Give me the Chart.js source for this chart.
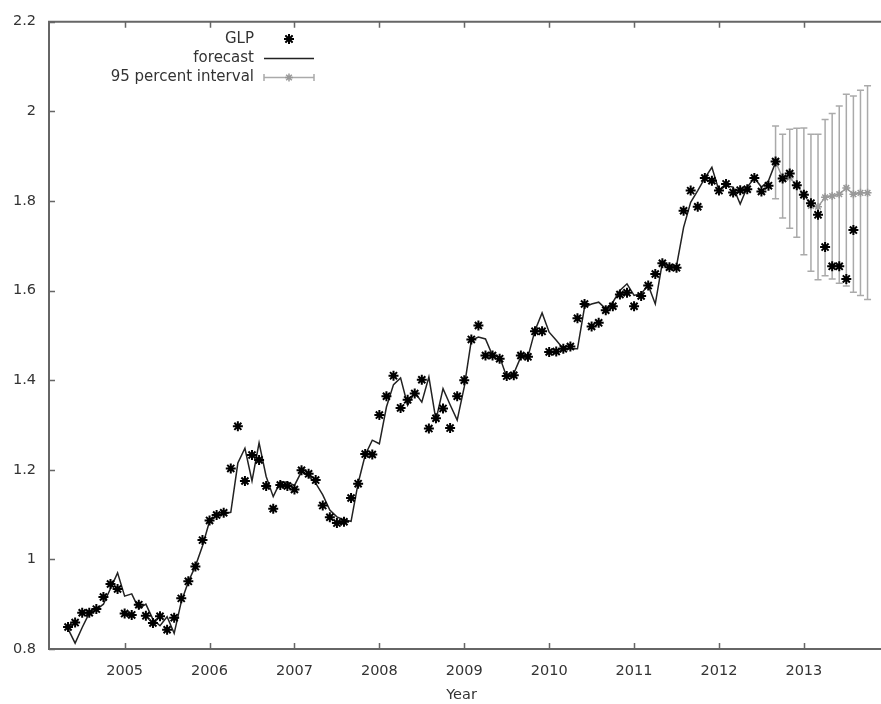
<!DOCTYPE html>
<html>
<head>
<meta charset="utf-8">
<script src="https://cdn.jsdelivr.net/npm/chart.js@4.4.0/dist/chart.umd.min.js"></script>
<style>
  html, body { margin: 0; padding: 0; background: #fff; overflow: hidden; }
  canvas { display: block; }
</style>
</head>
<body>
<canvas id="chart" width="881" height="704"></canvas>
<script>
// monthly series, first value is May 2004
const firstYear = 2004;
const firstMonth = 5;

const yearTicks = [2005, 2006, 2007, 2008, 2009, 2010, 2011, 2012, 2013];
const valueTicks = [0.8, 1.0, 1.2, 1.4, 1.6, 1.8, 2.0, 2.2];

// observed GLP (May 2004 .. Aug 2013)
const glp = [
    0.849, 0.859, 0.881, 0.881, 0.889, 0.916, 0.945, 0.934, 0.879, 0.876,
    0.899, 0.874, 0.858, 0.873, 0.843, 0.870, 0.913, 0.951, 0.984, 1.043,
    1.087, 1.099, 1.104, 1.203, 1.297, 1.175, 1.233, 1.222, 1.164, 1.113,
    1.166, 1.164, 1.156, 1.199, 1.191, 1.177, 1.120, 1.094, 1.081, 1.084,
    1.137, 1.169, 1.235, 1.234, 1.322, 1.364, 1.410, 1.338, 1.356, 1.370,
    1.401, 1.292, 1.315, 1.337, 1.293, 1.364, 1.400, 1.491, 1.522, 1.455,
    1.455, 1.448, 1.409, 1.411, 1.455, 1.452, 1.509, 1.509, 1.463, 1.464,
    1.470, 1.475, 1.538, 1.570, 1.520, 1.528, 1.556, 1.565, 1.591, 1.595,
    1.565, 1.588, 1.611, 1.637, 1.661, 1.652, 1.651, 1.778, 1.823, 1.787,
    1.851, 1.845, 1.823, 1.838, 1.819, 1.824, 1.826, 1.851, 1.821, 1.834,
    1.888, 1.850, 1.861, 1.835, 1.814, 1.795, 1.769, 1.697, 1.654, 1.654,
    1.626, 1.735
];

// in-sample forecast (May 2004 .. Sep 2012)
const forecast = [
    0.845, 0.813, 0.848, 0.880, 0.888, 0.900, 0.935, 0.970, 0.918, 0.923,
    0.890, 0.900, 0.866, 0.852, 0.872, 0.835, 0.905, 0.950, 0.985, 1.030,
    1.085, 1.098, 1.102, 1.105, 1.215, 1.248, 1.175, 1.260, 1.185, 1.140,
    1.173, 1.172, 1.165, 1.196, 1.186, 1.170, 1.144, 1.110, 1.095, 1.088,
    1.085, 1.170, 1.233, 1.266, 1.258, 1.340, 1.390, 1.405, 1.344, 1.373,
    1.351, 1.407, 1.311, 1.381, 1.345, 1.311, 1.385, 1.489, 1.496, 1.492,
    1.455, 1.452, 1.407, 1.415, 1.452, 1.452, 1.511, 1.550, 1.507, 1.489,
    1.470, 1.470, 1.470, 1.563, 1.570, 1.574, 1.559, 1.574, 1.600, 1.615,
    1.589, 1.593, 1.612, 1.570, 1.663, 1.655, 1.655, 1.741, 1.797, 1.823,
    1.851, 1.875, 1.823, 1.834, 1.831, 1.793, 1.831, 1.851, 1.831, 1.845,
    1.886
];

// out-of-sample forecast with 95 percent interval (Sep 2012 .. Oct 2013)
const intervalStart = 100;
const intervalMid = [1.888, 1.851, 1.852, 1.834, 1.815, 1.789, 1.787, 1.808, 1.811, 1.815, 1.829, 1.815, 1.818, 1.818];
const intervalLow = [1.805, 1.762, 1.739, 1.719, 1.680, 1.643, 1.624, 1.633, 1.626, 1.616, 1.610, 1.596, 1.589, 1.580];
const intervalHigh = [1.967, 1.949, 1.960, 1.962, 1.963, 1.949, 1.949, 1.982, 1.995, 2.012, 2.038, 2.034, 2.047, 2.057];

const monthX = i => firstYear + (firstMonth - 1 + i) / 12;
const toPoints = (arr, offset = 0) => arr.map((v, i) => ({ x: monthX(i + offset), y: v }));

const FONT = 'DejaVu Sans, Verdana, sans-serif';
const FRAME = '#666';
const INTERVAL_GREY = '#aaa';

// gnuplot style frame with inward ticks
const framePlugin = {
    id: 'frame',
    afterDatasetsDraw(chart) {
        const { ctx, chartArea: a, scales } = chart;
        ctx.save();
        ctx.strokeStyle = FRAME;
        ctx.lineWidth = 2;
        ctx.beginPath();
        ctx.moveTo(chart.width, a.top);
        ctx.lineTo(a.left, a.top);
        ctx.lineTo(a.left, a.bottom);
        ctx.lineTo(chart.width, a.bottom);
        ctx.stroke();

        ctx.lineWidth = 1.5;
        ctx.beginPath();
        yearTicks.forEach(t => {
            const x = Math.round(scales.x.getPixelForValue(t)) + 0.5;
            ctx.moveTo(x, a.bottom);
            ctx.lineTo(x, a.bottom - 6);
            ctx.moveTo(x, a.top);
            ctx.lineTo(x, a.top + 6);
        });
        valueTicks.forEach(t => {
            const y = Math.round(scales.y.getPixelForValue(t)) + 0.5;
            ctx.moveTo(a.left, y);
            ctx.lineTo(a.left + 6, y);
        });
        ctx.stroke();
        ctx.restore();
    }
};

// error bars of the 95 percent interval
const errorBarPlugin = {
    id: 'errorBars',
    beforeDatasetsDraw(chart) {
        const { ctx, scales } = chart;
        ctx.save();
        ctx.strokeStyle = INTERVAL_GREY;
        ctx.lineWidth = 1.5;
        ctx.beginPath();
        intervalMid.forEach((m, k) => {
            const x = scales.x.getPixelForValue(monthX(intervalStart + k));
            const yl = scales.y.getPixelForValue(intervalLow[k]);
            const yh = scales.y.getPixelForValue(intervalHigh[k]);
            ctx.moveTo(x, yl);
            ctx.lineTo(x, yh);
            ctx.moveTo(x - 3.5, yl);
            ctx.lineTo(x + 3.5, yl);
            ctx.moveTo(x - 3.5, yh);
            ctx.lineTo(x + 3.5, yh);
        });
        ctx.stroke();
        ctx.restore();
    }
};

// key in the top left corner, text right aligned before the sample
const keyPlugin = {
    id: 'key',
    afterDraw(chart) {
        const { ctx } = chart;
        const textRight = 254;
        const sx0 = 264, sx1 = 314, sxm = 289;
        const rows = [39, 58.5, 77.5];
        ctx.save();
        ctx.font = '15px ' + FONT;
        ctx.fillStyle = '#333';
        ctx.textAlign = 'right';
        ctx.textBaseline = 'middle';
        ctx.fillText('GLP', textRight, rows[0]);
        ctx.fillText('forecast', textRight, rows[1]);
        ctx.fillText('95 percent interval', textRight, rows[2]);

        Chart.helpers.drawPoint(ctx, { pointStyle: 'star', radius: 5, borderWidth: 2, rotation: 0 }, sxm, rows[0]);
        ctx.strokeStyle = '#000';
        ctx.lineWidth = 2;
        ctx.stroke();

        ctx.beginPath();
        ctx.strokeStyle = '#222';
        ctx.lineWidth = 1.5;
        ctx.moveTo(sx0, rows[1]);
        ctx.lineTo(sx1, rows[1]);
        ctx.stroke();

        ctx.beginPath();
        ctx.strokeStyle = INTERVAL_GREY;
        ctx.moveTo(sx0, rows[2]);
        ctx.lineTo(sx1, rows[2]);
        ctx.moveTo(sx0, rows[2] - 3.5);
        ctx.lineTo(sx0, rows[2] + 3.5);
        ctx.moveTo(sx1, rows[2] - 3.5);
        ctx.lineTo(sx1, rows[2] + 3.5);
        ctx.stroke();
        ctx.strokeStyle = '#999';
        Chart.helpers.drawPoint(ctx, { pointStyle: 'star', radius: 4, borderWidth: 1.5, rotation: 0 }, sxm, rows[2]);
        ctx.restore();
    }
};

new Chart(document.getElementById('chart'), {
    type: 'line',
    data: {
        datasets: [{
            label: 'GLP',
            data: toPoints(glp),
            showLine: false,
            pointStyle: 'star',
            pointRadius: 5,
            borderColor: '#000',
            backgroundColor: '#000',
            borderWidth: 2,
            order: 0
        }, {
            label: 'forecast',
            data: toPoints(forecast),
            borderColor: '#222',
            borderWidth: 1.5,
            pointRadius: 0,
            tension: 0,
            order: 1
        }, {
            label: '95 percent interval',
            data: toPoints(intervalMid, intervalStart),
            borderColor: '#999',
            backgroundColor: '#999',
            borderWidth: 1.5,
            pointStyle: 'star',
            pointRadius: 4,
            pointBorderWidth: 1.5,
            tension: 0,
            order: 2
        }]
    },
    options: {
        responsive: false,
        animation: false,
        layout: { padding: { top: 20, right: 0, bottom: 0, left: 0 } },
        plugins: {
            legend: { display: false },
            tooltip: { enabled: false }
        },
        scales: {
            x: {
                type: 'linear',
                min: 2004.109,
                max: 2013.826,
                afterBuildTicks: scale => { scale.ticks = yearTicks.map(v => ({ value: v })); },
                afterFit: scale => { scale.height = 55; },
                grid: { display: false, drawTicks: false },
                border: { display: false },
                ticks: {
                    padding: 14,
                    color: '#333',
                    font: { family: FONT, size: 14.5 },
                    callback: v => String(v)
                },
                title: {
                    display: true,
                    text: 'Year',
                    color: '#333',
                    font: { family: FONT, size: 14.5 },
                    padding: { top: 0, bottom: 0 }
                }
            },
            y: {
                min: 0.8,
                max: 2.2,
                afterBuildTicks: scale => { scale.ticks = valueTicks.map(v => ({ value: v })); },
                afterFit: scale => { scale.width = 49; },
                grid: { display: false, drawTicks: false },
                border: { display: false },
                ticks: {
                    padding: 13,
                    color: '#333',
                    font: { family: FONT, size: 14.5 },
                    callback: v => String(Math.round(v * 10) / 10)
                }
            }
        }
    },
    plugins: [errorBarPlugin, framePlugin, keyPlugin]
});
</script>
</body>
</html>
